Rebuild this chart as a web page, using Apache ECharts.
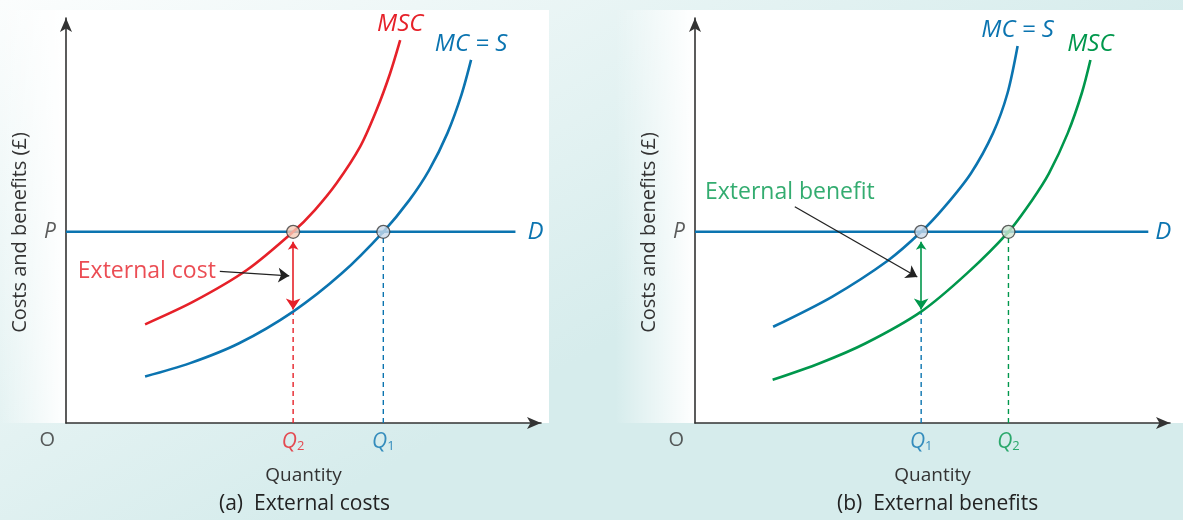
<!DOCTYPE html>
<html><head><meta charset="utf-8">
<script src="https://cdn.jsdelivr.net/npm/echarts@6/dist/echarts.min.js"></script>
<style>html,body{margin:0;padding:0;background:#fff;} #c{width:1183px;height:520px;}</style>
</head><body><div id="c"></div>
<script>
// ---- data (quantity / price in arbitrary units) ----
const priceP = 46.5;
// Panel (a) external costs
const aMSC_q = [16.4, 26.4, 37.5, 47.1, 51.6, 56.1, 61.0, 64.4, 67.2, 69.3];
const aMSC_p = [24.0, 29.5, 37.2, 46.5, 51.8, 58.3, 67.2, 76.1, 85.0, 93.1];
const aMC_q  = [16.4, 25.6, 35.9, 47.1, 57.2, 65.8, 71.2, 75.3, 79.1, 82.0, 84.0];
const aMC_p  = [11.3, 14.5, 19.4, 27.1, 36.4, 46.5, 54.2, 61.5, 70.5, 79.8, 88.3];
const aQ2 = 47.1, aQ1 = 65.8, aMCatQ2 = 27.1, aDend = 93.2;
const aNote = [[31.9, 36.9], [46.3, 35.8]];
// Panel (b) external benefits
const bMC_q  = [16.2, 28.4, 40.1, 46.9, 51.7, 57.2, 61.8, 64.8, 66.9];
const bMC_p  = [23.4, 30.7, 39.6, 46.5, 52.5, 60.7, 70.5, 80.2, 91.7];
const bMSC_q = [16.1, 26.0, 35.4, 46.9, 56.4, 65.0, 69.9, 73.4, 77.3, 80.2, 82.0];
const bMSC_p = [10.5, 14.6, 19.4, 27.1, 36.4, 46.5, 54.2, 60.7, 70.5, 80.2, 88.3];
const bQ1 = 46.9, bQ2 = 65.0, bMSCatQ1 = 27.1, bDend = 94.0;
const bNote = [[20.7, 52.6], [46.1, 35.5]];
// text
const yName = 'Costs and benefits (£)';
const xName = 'Quantity';
const captions = ['(a)  External costs', '(b)  External benefits'];

const BLUE = '#0b74b0', RED = '#e62129', GREEN = '#00974c', INK = '#333333';
const FONT = '"Open Sans", "Noto Sans", sans-serif';
const zip = (a, b) => a.map((v, i) => [v, b[i]]);

function curve(q, p, color, name, idx) {
  const d = zip(q, p);
  const last = d.length - 1;
  return {
    type: 'line', xAxisIndex: idx, yAxisIndex: idx, smooth: 0.3, symbol: 'none',
    lineStyle: { color, width: 2.6 }, z: 3,
    data: d.map((v, i) => i === last ? {
      value: v, symbol: 'circle', symbolSize: 0.01,
      label: { show: true, position: 'top', distance: 4, formatter: name,
        color, fontFamily: FONT, fontStyle: 'italic', fontSize: 24 }
    } : v)
  };
}
function segment(pts, color, idx, dashed, w) {
  return { type: 'line', xAxisIndex: idx, yAxisIndex: idx, symbol: 'none', silent: true, z: 2,
    lineStyle: { color, width: w || 1.6, type: dashed ? [5, 4] : 'solid' }, data: pts };
}
function arrows(coords, color, idx, both, w) {
  return { type: 'lines', coordinateSystem: 'cartesian2d', xAxisIndex: idx, yAxisIndex: idx, z: 4,
    symbol: both ? ['arrow', 'arrow'] : ['none', 'arrow'], symbolSize: [8, 11],
    lineStyle: { color, width: w || 1.6, opacity: 1 }, data: [{ coords }] };
}
function textPt(x, y, text, pos, color, extra) {
  return { value: [x, y], label: Object.assign({ show: true, position: pos, formatter: text,
    color: color || INK, fontFamily: FONT, fontSize: 20 }, extra || {}) };
}
function qLabel(x, num, color) {
  return { value: [x, 0], label: { show: true, position: 'bottom', distance: 8, formatter: '{q|Q}{s|' + num + '}',
    rich: { q: { color, fontFamily: FONT, fontStyle: 'italic', fontSize: 21, lineHeight: 22 },
            s: { color, fontFamily: FONT, fontSize: 13, lineHeight: 13, verticalAlign: 'bottom', padding: [8, 0, 0, 0] } } } };
}
function markers(pts, fills, idx) {
  return { type: 'scatter', xAxisIndex: idx, yAxisIndex: idx, symbolSize: 13, z: 6,
    data: pts.map((p, i) => ({ value: p, itemStyle: { color: fills[i], borderColor: '#3a3a3a', borderWidth: 1.3 } })) };
}
function labels(items, idx) {
  return { type: 'scatter', xAxisIndex: idx, yAxisIndex: idx, symbolSize: 0.01, silent: true, z: 7,
    itemStyle: { color: 'transparent' }, data: items };
}
function demand(end, idx, dist) {
  return segment([[0, priceP], { value: [end, priceP], symbol: 'circle', symbolSize: 0.01,
    label: { show: true, position: 'right', distance: dist, formatter: 'D', color: BLUE, fontFamily: FONT, fontStyle: 'italic', fontSize: 24 } }],
    BLUE, idx, false, 2.6);
}

const axisX = (idx) => ({ type: 'value', gridIndex: idx, min: 0, max: 98.5, name: xName, nameLocation: 'middle', nameGap: 43,
  nameTextStyle: { color: INK, fontFamily: FONT, fontSize: 19 },
  axisLine: { show: true, symbol: ['none', 'arrow'], symbolSize: [9, 14], lineStyle: { color: INK, width: 1.6 } },
  axisTick: { show: false }, axisLabel: { show: false }, splitLine: { show: false } });
const axisY = (idx) => ({ type: 'value', gridIndex: idx, min: 0, max: 98.5, name: yName, nameLocation: 'middle', nameGap: 36,
  nameTextStyle: { color: INK, fontFamily: FONT, fontSize: 20, padding: [0, 24, 0, 0] },
  axisLine: { show: true, symbol: ['none', 'arrow'], symbolSize: [9, 14], lineStyle: { color: INK, width: 1.6 } },
  axisTick: { show: false }, axisLabel: { show: false }, splitLine: { show: false } });

const chart = echarts.init(document.getElementById('c'), null, { renderer: 'canvas' });
chart.setOption({
  animation: false,
  backgroundColor: { type: 'linear', x: 0, y: 0, x2: 0.25, y2: 1,
    colorStops: [{ offset: 0, color: '#fbfdfd' }, { offset: 1, color: '#d6ecec' }] },
  graphic: [
    { type: 'rect', shape: { x: 0, y: 10, width: 549, height: 413 }, z: -10,
      style: { fill: { type: 'linear', x: 0, y: 0, x2: 1, y2: 0, colorStops: [
        { offset: 0, color: 'rgba(255,255,255,0)' }, { offset: 0.12, color: '#ffffff' }, { offset: 1, color: '#ffffff' }] } } },
    { type: 'rect', shape: { x: 615, y: 10, width: 568, height: 413 }, z: -10,
      style: { fill: { type: 'linear', x: 0, y: 0, x2: 1, y2: 0, colorStops: [
        { offset: 0, color: 'rgba(255,255,255,0)' }, { offset: 0.14, color: '#ffffff' }, { offset: 1, color: '#ffffff' }] } } },
    { type: 'text', left: 219, top: 494, style: { text: captions[0], fill: '#222', font: '21px ' + FONT } },
    { type: 'text', left: 837, top: 494, style: { text: captions[1], fill: '#222', font: '21px ' + FONT } }
  ],
  grid: [
    { left: 66, top: 18, width: 475, height: 405 },
    { left: 695, top: 18, width: 475, height: 405 }
  ],
  xAxis: [axisX(0), axisX(1)],
  yAxis: [axisY(0), axisY(1)],
  series: [
    // ---- panel a ----
    segment([[aQ1, 0], [aQ1, priceP]], BLUE, 0, true, 1.4),
    segment([[aQ2, 0], [aQ2, aMCatQ2]], RED, 0, true, 1.4),
    demand(aDend, 0, 12),
    curve(aMC_q, aMC_p, BLUE, 'MC = S', 0),
    curve(aMSC_q, aMSC_p, RED, 'MSC', 0),
    arrows([[aQ2, priceP - 2.4], [aQ2, aMCatQ2 + 0.5]], RED, 0, true),
    arrows(aNote, '#222', 0, false, 1.3),
    markers([[aQ2, priceP], [aQ1, priceP]], ['#f6cbb5', '#c8d8ea'], 0),
    labels([
      textPt(0, 0, 'O', 'left', INK, { offset: [-6, 17] }),
      textPt(0, priceP, 'P', 'left', INK, { distance: 10, fontStyle: 'italic', fontSize: 21 }),
      textPt(aNote[0][0], aNote[0][1], 'External cost', 'left', RED, { distance: 4, fontSize: 23 }),
      qLabel(aQ2, '2', RED), qLabel(aQ1, '1', BLUE)
    ], 0),
    // ---- panel b ----
    segment([[bQ2, 0], [bQ2, priceP]], GREEN, 1, true, 1.4),
    segment([[bQ1, 0], [bQ1, bMSCatQ1]], BLUE, 1, true, 1.4),
    demand(bDend, 1, 7),
    curve(bMC_q, bMC_p, BLUE, 'MC = S', 1),
    curve(bMSC_q, bMSC_p, GREEN, 'MSC', 1),
    arrows([[bQ1, priceP - 2.4], [bQ1, bMSCatQ1 + 0.5]], GREEN, 1, true),
    arrows(bNote, '#222', 1, false, 1.3),
    markers([[bQ1, priceP], [bQ2, priceP]], ['#c8d8ea', '#cfe6d3'], 1),
    labels([
      textPt(0, 0, 'O', 'left', INK, { offset: [-6, 17] }),
      textPt(0, priceP, 'P', 'left', INK, { distance: 10, fontStyle: 'italic', fontSize: 21 }),
      textPt(bNote[0][0], bNote[0][1], 'External benefit', 'top', GREEN, { distance: 3, offset: [-5, 0], fontSize: 23 }),
      qLabel(bQ1, '1', BLUE), qLabel(bQ2, '2', GREEN)
    ], 1)
  ]
});
</script></body></html>
